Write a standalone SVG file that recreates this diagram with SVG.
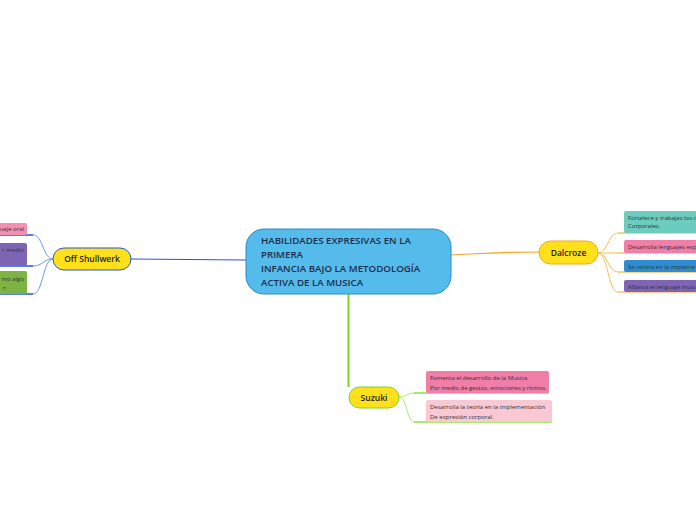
<svg xmlns="http://www.w3.org/2000/svg" width="696" height="520" viewBox="0 0 696 520">
<style>
.t{font-family:"Open Sans","Noto Sans",sans-serif;fill:#333;}
.leaf{font-size:6px;}
.main{font-size:9.7px;font-weight:600;fill:#1f2d4a;}
.sub{font-size:8.5px;font-weight:600;fill:#222;text-anchor:middle;}
.c{fill:none;}
</style>
<rect width="696" height="520" fill="#ffffff"/>
<g id="connectors">
<path class="c" d="M246,260 L131,259" stroke="#2458D6" stroke-width="1.2"/>
<path class="c" d="M451,255 C490,253 500,252 539,252" stroke="#F5A623" stroke-width="1.2"/>
<path class="c" d="M348.5,294 L348.5,387" stroke="#7ED321" stroke-width="2"/>
<g stroke="#6D98F0" stroke-width="1">
<path class="c" d="M53,259 C43,259 43,235 33,235"/>
<path class="c" d="M53,259 C43,259 43,266 33,266"/>
<path class="c" d="M53,259 C43,259 43,294 33,294"/>
</g>
<g stroke="#2553D8" stroke-width="1.3">
<path class="c" d="M33,235 L0,235"/>
<path class="c" d="M33,266 L0,266"/>
<path class="c" d="M33,294 L0,294"/>
</g>
<g stroke="#F8BE5A" stroke-width="1">
<path class="c" d="M598,253 C608,253 608,233 618,233"/>
<path class="c" d="M598,253 C608,253 608,253 618,253"/>
<path class="c" d="M598,253 C608,253 608,272 618,272"/>
<path class="c" d="M598,253 C608,253 608,292 618,292"/>
</g>
<g stroke="#F5A623" stroke-width="1.2">
<path class="c" d="M618,233 L696,233"/>
<path class="c" d="M618,253 L696,253"/>
<path class="c" d="M618,272 L696,272"/>
<path class="c" d="M618,292 L696,292"/>
</g>
<g stroke="#A8EE6A" stroke-width="1">
<path class="c" d="M399,397 C407,397 407,393 414,393"/>
<path class="c" d="M399,397 C407,397 407,422 414,422"/>
</g>
<g stroke="#8BE03A" stroke-width="1.3">
<path class="c" d="M414,393 L549,393"/>
<path class="c" d="M414,422 L552,422"/>
</g>
</g>
<g id="central">
<rect x="246" y="229" width="205" height="65" rx="18" fill="#55BBEA" stroke="#2A8CCC" stroke-width="1"/>
<text class="t main" x="261"><tspan x="261" y="244">HABILIDADES EXPRESIVAS EN LA</tspan><tspan x="261" y="258">PRIMERA</tspan><tspan x="261" y="272">INFANCIA BAJO LA METODOLOGÍA</tspan><tspan x="261" y="286">ACTIVA DE LA MUSICA</tspan></text>
</g>
<g id="off">
<rect x="53" y="248" width="78" height="22" rx="11" fill="#FFE01A" stroke="#2458D6" stroke-width="1"/>
<text class="t sub" x="92" y="262">Off Shullwerk</text>
</g>
<g id="off-1">
<rect x="-10" y="223" width="37" height="12" rx="2" fill="#F48FB1"/>
<text class="t leaf" x="24" y="231" text-anchor="end">uaje oral</text>
</g>
<g id="off-2">
<rect x="-10" y="243" width="37" height="23" rx="2" fill="#7E64B4"/>
<text class="t leaf" x="24" y="252" text-anchor="end">r medio</text>
</g>
<g id="off-3">
<rect x="-10" y="271" width="37" height="23" rx="2" fill="#7CB342"/>
<text class="t leaf" x="24" y="281" text-anchor="end">mo algo</text>
<text class="t leaf" x="7" y="290" text-anchor="end">r.</text>
</g>
<g id="dalcroze">
<rect x="539" y="241" width="59" height="23" rx="11.5" fill="#FFE01A" stroke="#F5A623" stroke-width="1"/>
<text class="t sub" x="568.5" y="256">Dalcroze</text>
</g>
<g id="dal-1">
<rect x="624" y="211" width="80" height="22" rx="2" fill="#6CCCBE"/>
<text class="t leaf" x="628" y="220">Fortalece y trabajas los c</text>
<text class="t leaf" x="628" y="228">Corporales.</text>
</g>
<g id="dal-2">
<rect x="624" y="240" width="80" height="13" rx="2" fill="#F07EA8"/>
<text class="t leaf" x="628" y="249">Desarrolla lenguajes exp</text>
</g>
<g id="dal-3">
<rect x="624" y="260" width="80" height="12" rx="2" fill="#2D8DD0"/>
<text class="t leaf" x="628" y="268.5">Se centra en la impleme</text>
</g>
<g id="dal-4">
<rect x="624" y="280" width="80" height="12" rx="2" fill="#7E64B4"/>
<text class="t leaf" x="628" y="288.5">Afianza el lenguaje musi</text>
</g>
<g id="suzuki">
<rect x="349" y="387" width="50" height="21" rx="10.5" fill="#FFE01A" stroke="#7ED321" stroke-width="1"/>
<text class="t sub" x="374" y="400.5">Suzuki</text>
</g>
<g id="suz-1">
<rect x="426" y="371" width="123" height="22" rx="2" fill="#F07EA8"/>
<text class="t leaf" x="430" y="380">Fomenta el desarrollo de la Musica</text>
<text class="t leaf" x="430" y="389.5">Por medio de gestos, emociones y ritmos.</text>
</g>
<g id="suz-2">
<rect x="426" y="400" width="126" height="22" rx="2" fill="#F8C8D4"/>
<text class="t leaf" x="430" y="409">Desarrolla la teoría en la implementación</text>
<text class="t leaf" x="430" y="418.5">De expresión corporal.</text>
</g>
</svg>
